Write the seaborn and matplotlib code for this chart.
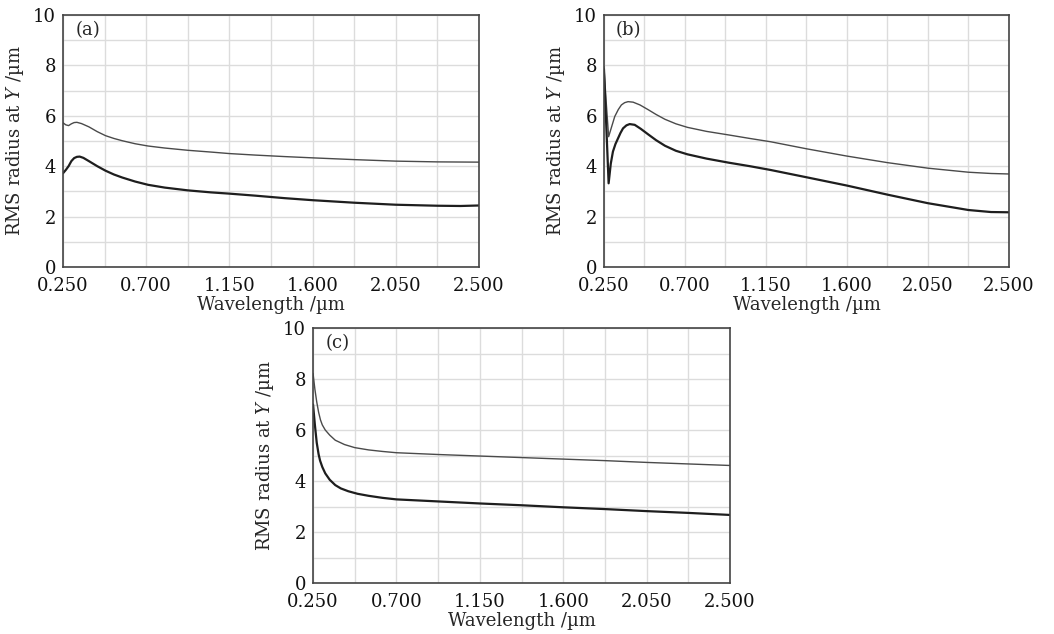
import numpy as np
import pandas as pd
import matplotlib
matplotlib.use("Agg")
import matplotlib.pyplot as plt
import seaborn as sns

# ---- data: RMS spot radius versus wavelength for three configurations ----
wl_a_upper = [0.25, 0.265, 0.28, 0.295, 0.31, 0.325, 0.35, 0.39, 0.435, 0.48, 0.525, 0.57,
              0.64, 0.71, 0.80, 0.925, 1.05, 1.15, 1.29, 1.45, 1.60, 1.825, 2.05, 2.275, 2.50]
rms_a_upper = [5.72, 5.64, 5.61, 5.68, 5.73, 5.74, 5.69, 5.56, 5.37, 5.21, 5.10, 5.01,
               4.89, 4.80, 4.72, 4.63, 4.56, 4.50, 4.44, 4.38, 4.33, 4.26, 4.20, 4.17, 4.16]
wl_a_lower = [0.25, 0.265, 0.28, 0.295, 0.31, 0.325, 0.34, 0.36, 0.39, 0.435, 0.48, 0.525,
              0.57, 0.64, 0.71, 0.80, 0.925, 1.05, 1.15, 1.29, 1.45, 1.60, 1.825, 2.05,
              2.275, 2.40, 2.50]
rms_a_lower = [3.72, 3.85, 4.00, 4.20, 4.32, 4.37, 4.38, 4.33, 4.20, 4.00, 3.82, 3.67,
               3.55, 3.39, 3.26, 3.15, 3.04, 2.96, 2.91, 2.83, 2.73, 2.65, 2.55, 2.47,
               2.43, 2.42, 2.44]

wl_b_upper = [0.25, 0.262, 0.276, 0.29, 0.31, 0.33, 0.347, 0.365, 0.384, 0.412, 0.45,
              0.496, 0.54, 0.589, 0.65, 0.714, 0.82, 0.942, 1.06, 1.175, 1.375, 1.60,
              1.825, 2.05, 2.275, 2.40, 2.50]
rms_b_upper = [7.95, 6.60, 5.17, 5.50, 5.97, 6.25, 6.43, 6.52, 6.56, 6.54, 6.43,
               6.24, 6.05, 5.86, 5.68, 5.54, 5.38, 5.24, 5.10, 4.97, 4.69, 4.40,
               4.14, 3.92, 3.76, 3.71, 3.69]
wl_b_lower = [0.25, 0.263, 0.276, 0.288, 0.30, 0.314, 0.328, 0.342, 0.356, 0.375, 0.393,
              0.421, 0.455, 0.496, 0.54, 0.589, 0.65, 0.714, 0.82, 0.942, 1.06, 1.175,
              1.375, 1.60, 1.825, 2.05, 2.275, 2.40, 2.50]
rms_b_lower = [7.85, 5.60, 3.32, 4.10, 4.58, 4.88, 5.10, 5.32, 5.50, 5.62, 5.67,
               5.64, 5.48, 5.26, 5.03, 4.81, 4.61, 4.47, 4.30, 4.14, 4.00, 3.85,
               3.56, 3.23, 2.87, 2.53, 2.26, 2.18, 2.17]

wl_c_upper = [0.25, 0.26, 0.27, 0.28, 0.29, 0.30, 0.316, 0.34, 0.37, 0.42, 0.475, 0.55,
              0.625, 0.70, 0.925, 1.15, 1.375, 1.60, 1.825, 2.05, 2.275, 2.50]
rms_c_upper = [8.22, 7.60, 7.10, 6.70, 6.40, 6.20, 6.00, 5.80, 5.60, 5.43, 5.31, 5.22,
               5.16, 5.11, 5.04, 4.98, 4.92, 4.86, 4.80, 4.73, 4.67, 4.61]
wl_c_lower = [0.25, 0.26, 0.27, 0.28, 0.288, 0.30, 0.316, 0.34, 0.37, 0.40, 0.44, 0.49,
              0.55, 0.625, 0.70, 0.925, 1.15, 1.375, 1.60, 1.825, 2.05, 2.275, 2.50]
rms_c_lower = [7.00, 6.20, 5.50, 5.05, 4.80, 4.55, 4.30, 4.05, 3.84, 3.71, 3.60, 3.50,
               3.42, 3.34, 3.28, 3.20, 3.12, 3.05, 2.97, 2.90, 2.82, 2.75, 2.67]

panel_labels = ["(a)", "(b)", "(c)"]
x_ticks = [0.25, 0.70, 1.15, 1.60, 2.05, 2.50]
y_ticks = [0, 2, 4, 6, 8, 10]

# ---- styling ----
sns.set_style("white")
plt.rcParams["font.family"] = ["DejaVu Serif"]
plt.rcParams["mathtext.fontset"] = "dejavuserif"

fig = plt.figure(figsize=(10.54, 6.34), dpi=100)
axes = [
    fig.add_axes([0.0598, 0.5789, 0.3947, 0.3975]),
    fig.add_axes([0.5730, 0.5789, 0.3843, 0.3975]),
    fig.add_axes([0.2970, 0.0804, 0.3956, 0.4022]),
]

series = [
    ((wl_a_upper, rms_a_upper), (wl_a_lower, rms_a_lower)),
    ((wl_b_upper, rms_b_upper), (wl_b_lower, rms_b_lower)),
    ((wl_c_upper, rms_c_upper), (wl_c_lower, rms_c_lower)),
]

x_minor = [(a + b) / 2 for a, b in zip(x_ticks[:-1], x_ticks[1:])]
y_minor = [1, 3, 5, 7, 9]
fs = 13

for ax, (upper, lower), label in zip(axes, series, panel_labels):
    up = pd.DataFrame({"wavelength": upper[0], "rms": upper[1]})
    lo = pd.DataFrame({"wavelength": lower[0], "rms": lower[1]})
    sns.lineplot(data=up, x="wavelength", y="rms", ax=ax, color="#4a4a4a",
                 linewidth=1.0, sort=False)
    sns.lineplot(data=lo, x="wavelength", y="rms", ax=ax, color="#1e1e1e",
                 linewidth=1.6, sort=False)

    ax.set_xlim(0.25, 2.5)
    ax.set_ylim(0, 10)
    ax.set_xticks(x_ticks)
    ax.set_xticklabels([f"{v:.3f}" for v in x_ticks])
    ax.set_xticks(x_minor, minor=True)
    ax.set_yticks(y_ticks)
    ax.set_yticklabels([str(v) for v in y_ticks])
    ax.set_yticks(y_minor, minor=True)

    ax.grid(True, which="both", color="#dcdcdc", linewidth=1.0)
    ax.set_axisbelow(True)
    ax.tick_params(axis="both", which="major", length=0, labelsize=fs,
                   colors="#111111")
    ax.tick_params(axis="x", which="major", pad=7)
    ax.tick_params(axis="y", which="major", pad=5)
    ax.tick_params(axis="both", which="minor", direction="in", length=5,
                   width=1.0, color="#333333")
    ax.tick_params(top=False, right=False, which="both")

    for sp in ax.spines.values():
        sp.set_color("#444444")
        sp.set_linewidth(1.2)

    ax.set_xlabel("Wavelength /µm", fontsize=fs, labelpad=1)
    ax.set_ylabel(r"RMS radius at $\mathit{Y}$ /µm", fontsize=fs, labelpad=5)
    ax.text(0.03, 0.975, label, transform=ax.transAxes, ha="left", va="top",
            fontsize=fs)

fig.savefig("out.png", dpi=100)
